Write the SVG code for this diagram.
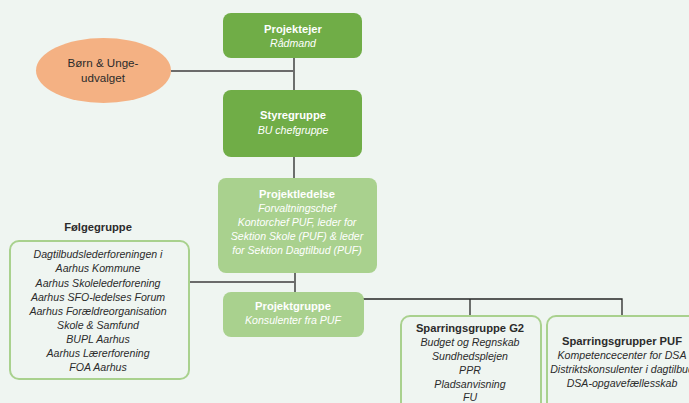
<svg xmlns="http://www.w3.org/2000/svg" width="689" height="403" viewBox="0 0 689 403">
  <style>
    text { font-family: "Liberation Sans", Arial, sans-serif; font-size: 10.6px; text-anchor: middle; }
    .b { font-weight: bold; font-size: 11.2px; }
    .i { font-style: italic; }
    .w { fill: #ffffff; }
    .d { fill: #2b2b2b; }
    .big { font-size: 11.6px; }
    .dark { fill: #70ad47; }
    .light { fill: #a9d18e; }
    .outline { fill: #eff5f1; stroke: #a9d18e; stroke-width: 2; }
    .conn { stroke: #262626; stroke-width: 1.3; fill: none; }
    .conn2 { stroke: #6b6b6b; stroke-width: 2; fill: none; }
  </style>

  <rect width="689" height="403" fill="#eff5f1"/>

  <!-- Connectors -->
  <g id="connectors">
    <line class="conn" x1="294" y1="58" x2="294" y2="90"/>
    <line class="conn2" x1="171" y1="71" x2="294" y2="71"/>
    <line class="conn" x1="294" y1="157" x2="294" y2="178"/>
    <line class="conn" x1="295" y1="273" x2="295" y2="292"/>
    <line class="conn2" x1="189" y1="282" x2="295" y2="282"/>
    <polyline class="conn" points="363,299 622,299 622,316"/>
    <line class="conn" x1="470" y1="299" x2="470" y2="316"/>
  </g>

  <g id="boern-unge">
    <ellipse cx="103.5" cy="70.5" rx="67.5" ry="32.5" fill="#f4b183"/>
    <text class="d big" x="103" y="67">Børn &amp; Unge-</text>
    <text class="d big" x="103" y="82">udvalget</text>
  </g>

  <g id="projektejer">
    <rect class="dark" x="223" y="13" width="139" height="45" rx="8"/>
    <text class="w b" x="293" y="33">Projektejer</text>
    <text class="w i" x="293" y="47">Rådmand</text>
  </g>

  <g id="styregruppe">
    <rect class="dark" x="223" y="90" width="139" height="67" rx="8"/>
    <text class="w b" x="293" y="119">Styregruppe</text>
    <text class="w i" x="293" y="134">BU chefgruppe</text>
  </g>

  <g id="projektledelse">
    <rect class="light" x="218" y="178" width="159" height="95" rx="8"/>
    <text class="w b" x="297" y="198">Projektledelse</text>
    <text class="w i" x="297" y="212">Forvaltningschef</text>
    <text class="w i" x="297" y="226">Kontorchef PUF, leder for</text>
    <text class="w i" x="297" y="240">Sektion Skole (PUF) &amp; leder</text>
    <text class="w i" x="297" y="254">for Sektion Dagtilbud (PUF)</text>
  </g>

  <g id="projektgruppe">
    <rect class="light" x="223" y="292" width="141" height="45" rx="8"/>
    <text class="w b" x="293" y="310">Projektgruppe</text>
    <text class="w i" x="293" y="324">Konsulenter fra PUF</text>
  </g>

  <g id="foelgegruppe">
    <text class="d b" x="98" y="231">Følgegruppe</text>
    <rect class="outline" x="10" y="241" width="179" height="138" rx="9"/>
    <text class="d i" x="98" y="258">Dagtilbudslederforeningen i</text>
    <text class="d i" x="98" y="272">Aarhus Kommune</text>
    <text class="d i" x="98" y="287">Aarhus Skolelederforening</text>
    <text class="d i" x="98" y="301">Aarhus SFO-ledelses Forum</text>
    <text class="d i" x="98" y="315">Aarhus Forældreorganisation</text>
    <text class="d i" x="98" y="329">Skole &amp; Samfund</text>
    <text class="d i" x="98" y="343">BUPL Aarhus</text>
    <text class="d i" x="98" y="357">Aarhus Lærerforening</text>
    <text class="d i" x="98" y="371">FOA Aarhus</text>
  </g>

  <g id="sparringsgruppe-g2">
    <rect class="outline" x="401" y="316" width="140" height="100" rx="9"/>
    <text class="d b" x="470" y="332">Sparringsgruppe G2</text>
    <text class="d i" x="470" y="346">Budget og Regnskab</text>
    <text class="d i" x="470" y="360">Sundhedsplejen</text>
    <text class="d i" x="470" y="374">PPR</text>
    <text class="d i" x="470" y="388">Pladsanvisning</text>
    <text class="d i" x="470" y="401">FU</text>
  </g>

  <g id="sparringsgrupper-puf">
    <rect class="outline" x="547" y="316" width="160" height="100" rx="9"/>
    <text class="d b" x="622" y="345">Sparringsgrupper PUF</text>
    <text class="d i" x="622" y="359">Kompetencecenter for DSA</text>
    <text class="d i" x="622" y="373">Distriktskonsulenter i dagtilbud</text>
    <text class="d i" x="622" y="387">DSA-opgavefællesskab</text>
  </g>
</svg>
